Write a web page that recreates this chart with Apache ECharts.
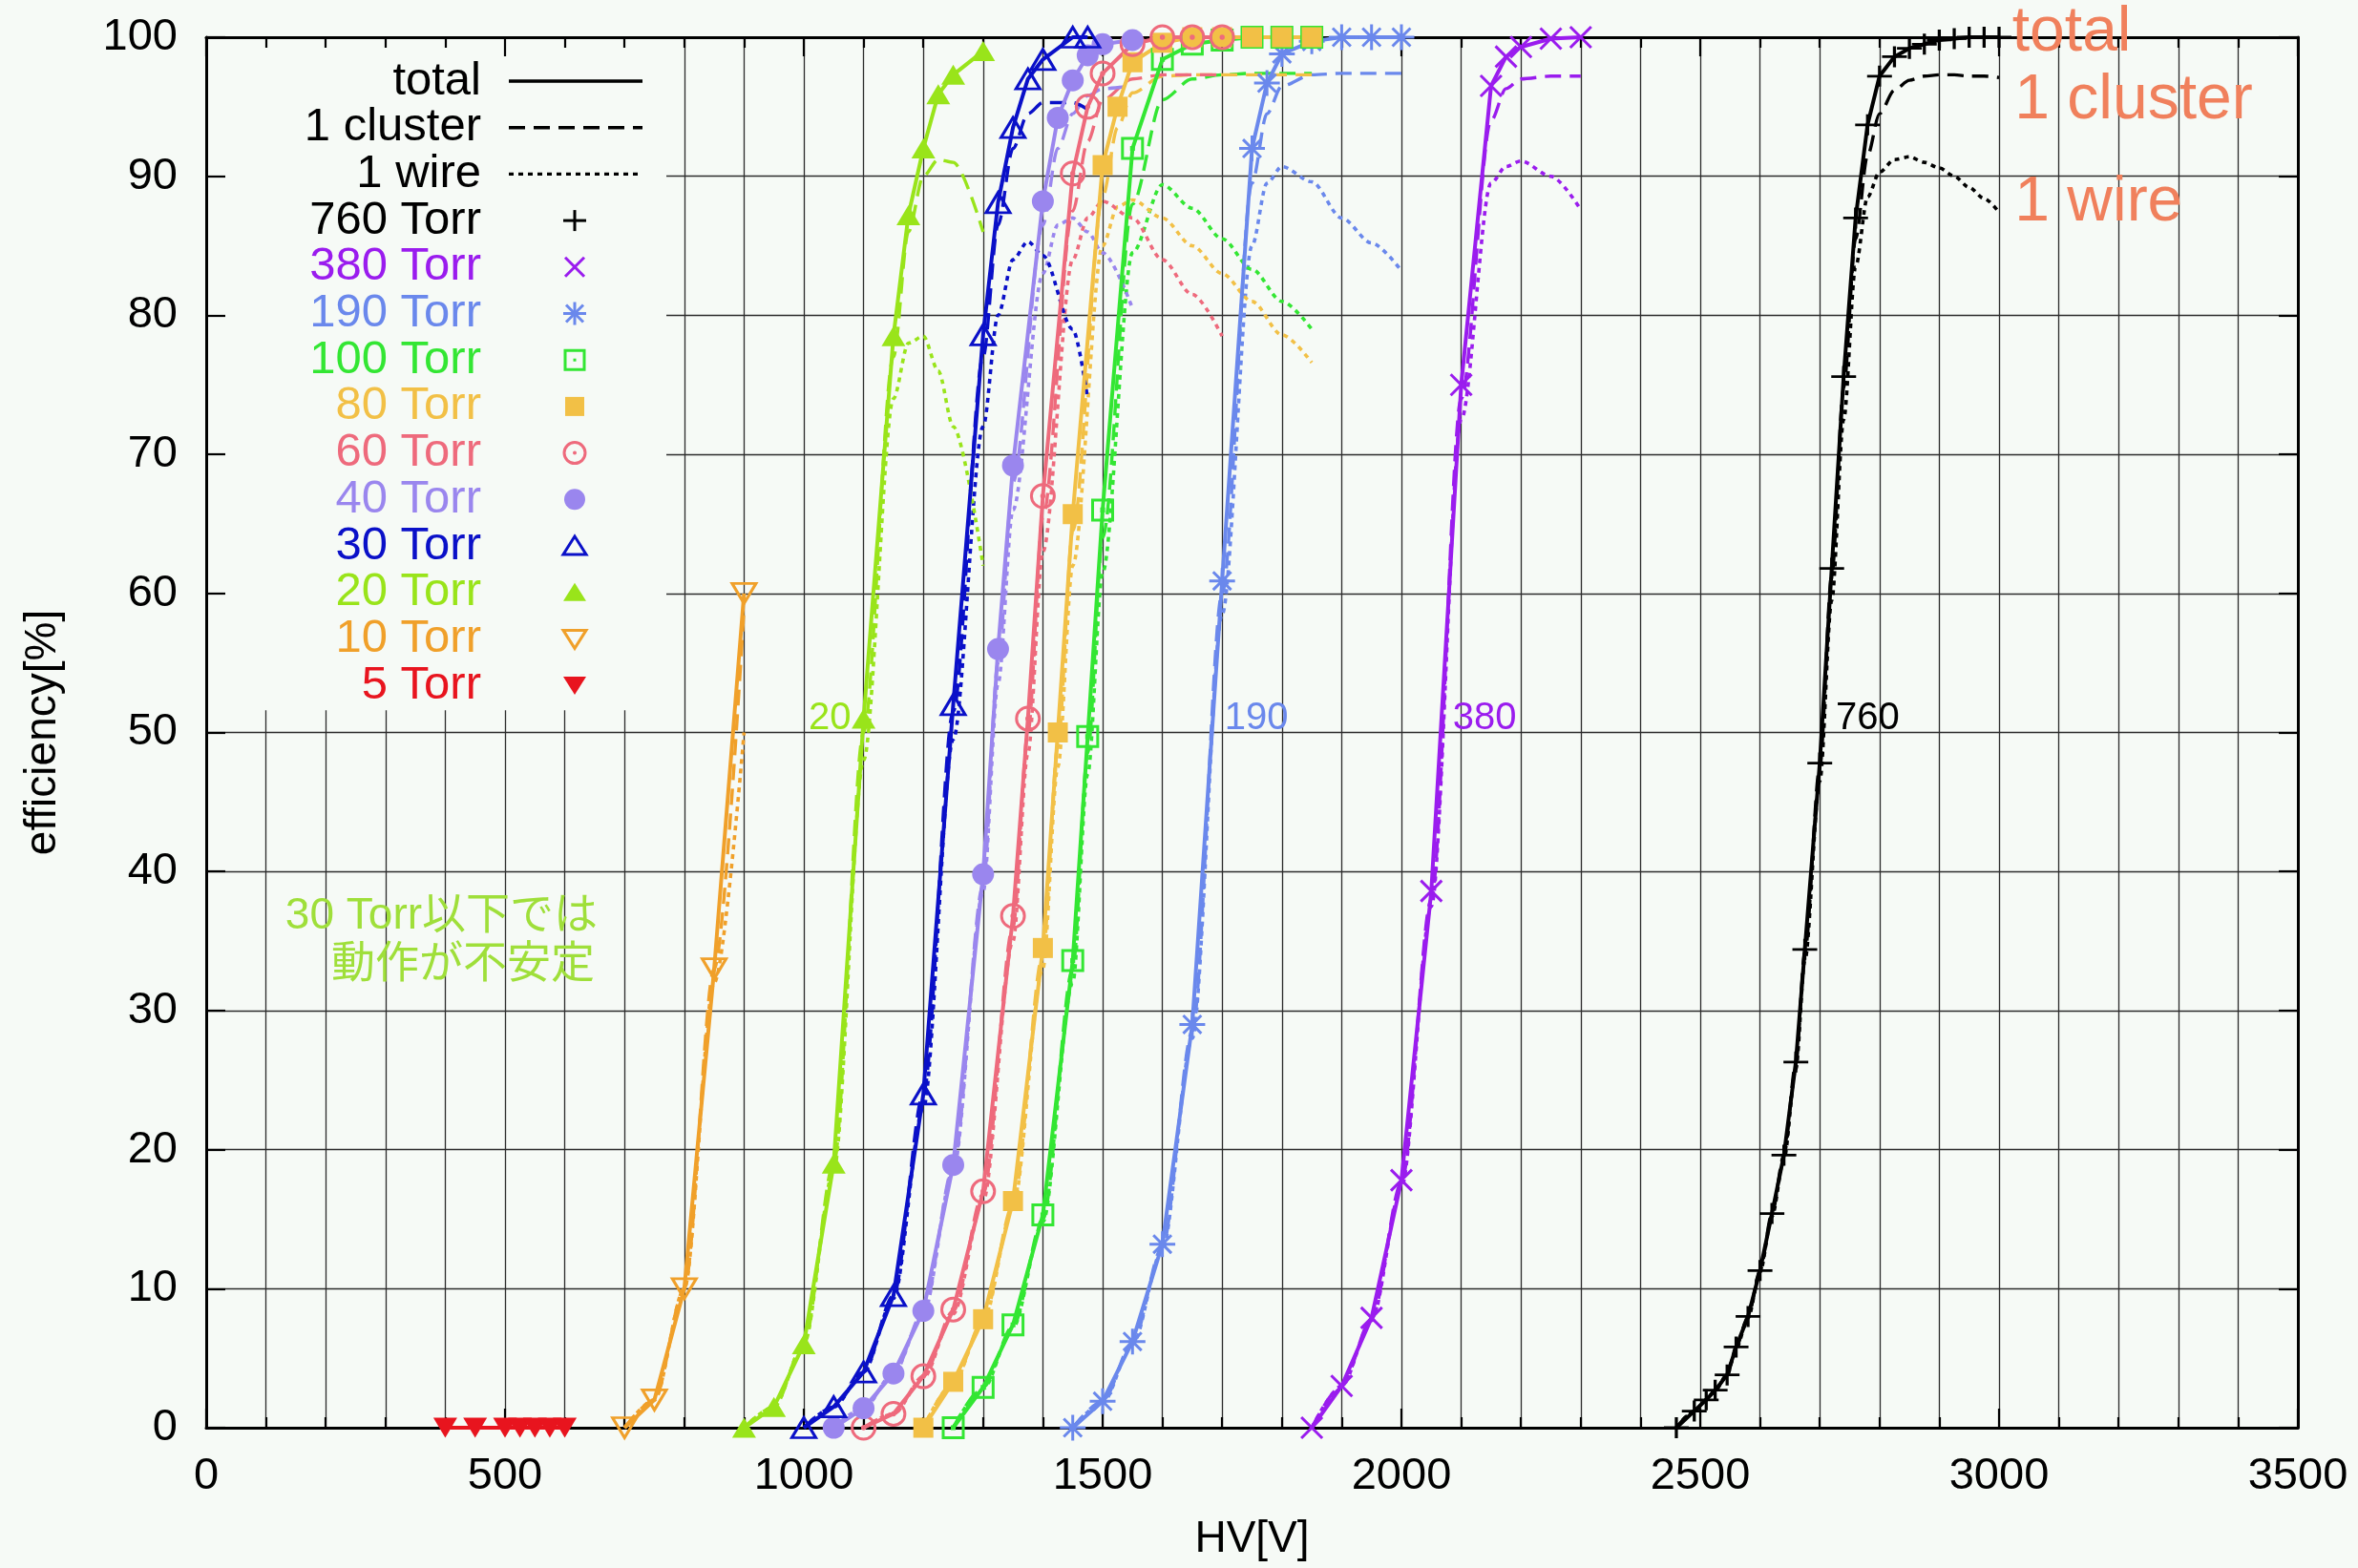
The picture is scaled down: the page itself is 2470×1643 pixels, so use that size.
<!DOCTYPE html>
<html>
<head>
<meta charset="utf-8">
<script src="https://cdn.jsdelivr.net/npm/echarts/dist/echarts.min.js"></script>
<style>
  html, body { margin: 0; padding: 0; background: #f6faf6; }
  #chart { width: 2470px; height: 1643px; }
</style>
</head>
<body>
<div id="chart"></div>
<script>
// ---- data: HV [V] and efficiency [%] per pressure ----
const hv760 = [2460, 2490, 2510, 2525, 2545, 2560, 2580, 2600, 2620, 2640, 2660, 2675, 2700, 2720, 2740, 2760, 2780, 2800, 2825, 2850, 2875, 2900, 2925, 2950, 2975, 3000];
const total760 = [0, 1.2, 2, 2.7, 3.8, 5.8, 8, 11.3, 15.4, 19.6, 26.3, 34.4, 47.8, 61.8, 75.6, 87, 93.7, 97.2, 98.6, 99.2, 99.5, 99.8, 99.9, 100, 100, 100];
const cluster760 = [0, 1.2, 2, 2.7, 3.8, 5.8, 8, 11.3, 15.4, 19.6, 26.2, 34.2, 47.5, 61.3, 74.8, 85.5, 91.5, 94.5, 96.2, 96.9, 97.2, 97.3, 97.3, 97.2, 97.2, 97.1];
const wire760 = [0, 1.2, 2, 2.7, 3.8, 5.7, 7.9, 11.2, 15.2, 19.3, 25.8, 33.6, 46.5, 59.5, 72.5, 83.5, 88.5, 90.3, 91.2, 91.4, 91, 90.6, 90, 89.2, 88.4, 87.4];

const hv380 = [1850, 1900, 1950, 2000, 2050, 2100, 2150, 2175, 2200, 2250, 2300];
const total380 = [0, 3, 7.9, 17.8, 38.6, 75, 96.5, 98.6, 99.3, 99.9, 100];
const cluster380 = [0, 3, 7.8, 17.6, 38, 74, 94, 96.3, 97, 97.2, 97.2];
const wire380 = [0, 3, 7.7, 17.3, 37.5, 72.5, 89.5, 90.7, 91.1, 90, 87.6];

const hv190 = [1450, 1500, 1550, 1600, 1650, 1700, 1750, 1775, 1800, 1850, 1900, 1950, 2000];
const total190 = [0, 1.9, 6.2, 13.2, 29, 60.9, 92, 96.7, 98.8, 99.7, 100, 100, 100];
const cluster190 = [0, 1.9, 6.1, 13, 28.5, 60, 89.5, 94.5, 96.5, 97.3, 97.4, 97.4, 97.4];
const wire190 = [0, 1.8, 6, 12.8, 28, 58.5, 85, 89.5, 90.7, 89.6, 87, 85.2, 83.2];

const hv100 = [1250, 1300, 1350, 1400, 1450, 1475, 1500, 1550, 1600, 1650, 1700, 1750, 1800, 1850];
const total100 = [0, 2.9, 7.4, 15.3, 33.6, 49.7, 66, 92, 98.4, 99.5, 99.8, 100, 100, 100];
const cluster100 = [0, 2.9, 7.3, 15, 33, 48.5, 64, 88, 95.5, 97, 97.3, 97.4, 97.4, 97.4];
const wire100 = [0, 2.8, 7.2, 14.8, 32, 47, 61.5, 84.5, 89.4, 87.7, 85.5, 83.3, 81, 79];

const hv80 = [1200, 1250, 1300, 1350, 1400, 1425, 1450, 1500, 1525, 1550, 1600, 1650, 1700, 1750, 1800, 1850];
const total80 = [0, 3.3, 7.8, 16.3, 34.5, 50, 65.7, 90.8, 95, 98.2, 99.6, 100, 100, 100, 100, 100];
const cluster80 = [0, 3.2, 7.7, 16, 34, 49, 64.5, 88.5, 93.5, 96, 97.2, 97.3, 97.3, 97.3, 97.3, 97.3];
const wire80 = [0, 3.2, 7.6, 15.8, 33, 47.5, 62, 85, 87.8, 88.3, 87, 85, 83, 81, 78.6, 76.6];

const hv60 = [1100, 1150, 1200, 1250, 1300, 1350, 1375, 1400, 1450, 1475, 1500, 1550, 1600, 1650, 1700];
const total60 = [0, 1, 3.7, 8.5, 17, 36.8, 51, 67, 90.2, 95, 97.4, 99.5, 100, 100, 100];
const cluster60 = [0, 1, 3.7, 8.4, 16.8, 36, 50, 65.5, 87.5, 92.5, 95.5, 97, 97.3, 97.3, 97.3];
const wire60 = [0, 1, 3.6, 8.2, 16.3, 35, 48.5, 63, 84, 87, 88.2, 87, 84, 81.5, 78.5];

const hv40 = [1050, 1100, 1150, 1200, 1250, 1300, 1325, 1350, 1400, 1425, 1450, 1475, 1500, 1550];
const total40 = [0, 1.4, 3.9, 8.4, 18.9, 39.8, 56, 69.2, 88.2, 94.2, 96.9, 98.7, 99.5, 99.8];
const cluster40 = [0, 1.4, 3.9, 8.3, 18.7, 39, 55, 68, 86.5, 92, 94.5, 95.8, 96.3, 96.5];
const wire40 = [0, 1.4, 3.9, 8.2, 18.5, 38.5, 53.5, 66, 83, 86.5, 87, 86, 84.5, 80.5];

const hv30 = [1000, 1050, 1100, 1150, 1200, 1250, 1300, 1325, 1350, 1375, 1400, 1450, 1475];
const total30 = [0, 1.5, 4, 9.5, 24, 52, 78.6, 88.1, 93.5, 97, 98.4, 100, 100];
const cluster30 = [0, 1.5, 4, 9.5, 24, 51.5, 77, 86.5, 92, 94.5, 95.3, 95.3, 94.8];
const wire30 = [0, 1.5, 4, 9.3, 23, 49.5, 72, 80, 84, 85.3, 84.3, 79, 74];

const hv20 = [900, 950, 1000, 1050, 1100, 1150, 1175, 1200, 1225, 1250, 1300];
const total20 = [0, 1.5, 6, 19, 51, 78.5, 87.2, 92, 95.9, 97.3, 99];
const cluster20 = [0, 1.5, 6, 19, 50, 77, 86, 90, 91.2, 91, 86];
const wire20 = [0, 1.5, 6, 18.5, 48, 74, 78, 78.5, 76, 72, 62];

const hv10 = [700, 750, 800, 850, 900];
const total10 = [0, 2, 10, 33, 60];
const cluster10 = [0, 2, 10, 33, 59];
const wire10 = [0, 2, 10, 32, 50];

const hv5 = [400, 450, 500, 525, 550, 575, 600];
const total5 = [0, 0, 0, 0, 0, 0, 0];
const cluster5 = [0, 0, 0, 0, 0, 0, 0];
const wire5 = [0, 0, 0, 0, 0, 0, 0];

const xTicks = [0, 500, 1000, 1500, 2000, 2500, 3000, 3500];
const yTicks = [0, 10, 20, 30, 40, 50, 60, 70, 80, 90, 100];

// ---- styling ----
const BG = '#f6faf6';
const FONT = "'Liberation Sans', 'Noto Sans CJK JP', sans-serif";
const GRID_COLOR = '#2c2c2c';
const DASH = [17, 9];
const DOT = [5, 5];

const MARKERS = {
  plus:      { symbol: 'path://M5,0L5,10M0,5L10,5', size: [26, 22], open: true },
  cross:     { symbol: 'path://M0,0L10,10M10,0L0,10', size: 22, open: true },
  star:      { symbol: 'path://M5,0L5,10M0,5L10,5M1.5,1.5L8.5,8.5M8.5,1.5L1.5,8.5', size: 27, open: true },
  boxDot:    { symbol: 'path://M0,0L10,0L10,10L0,10Z M4.5,4.5L5.5,4.5L5.5,5.5L4.5,5.5Z', size: 21, open: true },
  box:       { symbol: 'rect', size: 21, open: false },
  circleDot: { symbol: 'path://M10,5A5,5,0,1,1,0,5A5,5,0,1,1,10,5Z M5.5,5A0.5,0.5,0,1,1,4.5,5A0.5,0.5,0,1,1,5.5,5Z', size: 24, open: true },
  circle:    { symbol: 'circle', size: 23, open: false },
  triUp:     { symbol: 'triangle', size: [25, 21], open: true },
  triUpFill: { symbol: 'triangle', size: [25, 21], open: false },
  triDown:   { symbol: 'triangle', size: [25, 21], open: true, rotate: 180 },
  triDownFill: { symbol: 'triangle', size: [25, 21], open: false, rotate: 180 }
};

const pressures = [
  { label: '760 Torr', color: '#000000', hv: hv760, total: total760, cluster: cluster760, wire: wire760, marker: 'plus' },
  { label: '380 Torr', color: '#9a1cee', hv: hv380, total: total380, cluster: cluster380, wire: wire380, marker: 'cross' },
  { label: '190 Torr', color: '#6a88ec', hv: hv190, total: total190, cluster: cluster190, wire: wire190, marker: 'star' },
  { label: '100 Torr', color: '#33e633', hv: hv100, total: total100, cluster: cluster100, wire: wire100, marker: 'boxDot' },
  { label: '80 Torr', color: '#f2c046', hv: hv80, total: total80, cluster: cluster80, wire: wire80, marker: 'box' },
  { label: '60 Torr', color: '#ee6a7c', hv: hv60, total: total60, cluster: cluster60, wire: wire60, marker: 'circleDot' },
  { label: '40 Torr', color: '#9a86ee', hv: hv40, total: total40, cluster: cluster40, wire: wire40, marker: 'circle' },
  { label: '30 Torr', color: '#0a10c8', hv: hv30, total: total30, cluster: cluster30, wire: wire30, marker: 'triUp' },
  { label: '20 Torr', color: '#99e41a', hv: hv20, total: total20, cluster: cluster20, wire: wire20, marker: 'triUpFill' },
  { label: '10 Torr', color: '#f0a02a', hv: hv10, total: total10, cluster: cluster10, wire: wire10, marker: 'triDown' },
  { label: '5 Torr', color: '#e8141e', hv: hv5, total: total5, cluster: cluster5, wire: wire5, marker: 'triDownFill' }
];

const series = [];
pressures.forEach(p => {
  const pts = ys => p.hv.map((x, i) => [x, ys[i]]);
  const m = MARKERS[p.marker];
  series.push({
    name: p.label + ' 1 wire', type: 'line', data: pts(p.wire), symbol: 'none',
    smooth: 0.3, smoothMonotone: 'x', z: 4, silent: true,
    lineStyle: { color: p.color, width: 3.6, type: DOT }
  });
  series.push({
    name: p.label + ' 1 cluster', type: 'line', data: pts(p.cluster), symbol: 'none',
    smooth: 0.3, smoothMonotone: 'x', z: 4, silent: true,
    lineStyle: { color: p.color, width: 3.4, type: DASH }
  });
  series.push({
    name: p.label, type: 'line', data: pts(p.total),
    symbol: m.symbol, symbolSize: m.size, symbolRotate: m.rotate || 0, z: 5, silent: true,
    itemStyle: m.open
      ? { color: 'rgba(0,0,0,0)', borderColor: p.color, borderWidth: 3 }
      : { color: p.color, borderWidth: 0 },
    lineStyle: { color: p.color, width: 4 }
  });
});

const plainNum = v => String(v);

const axisBase = {
  type: 'value',
  axisLabel: { show: false },
  splitLine: { show: false },
  axisLine: { show: true, onZero: false, lineStyle: { color: '#000', width: 3 } },
  axisTick: { show: true, inside: true, length: 20, lineStyle: { color: '#000', width: 2.2 } },
  z: 3
};

const option = {
  backgroundColor: BG,
  animation: false,
  grid: { left: 216, right: 63, top: 39, bottom: 147, containLabel: false, outerBoundsMode: 'none' },
  xAxis: [
    { type: 'value', min: 0, max: 3500, interval: 100, position: 'bottom',
      axisLine: { show: false }, axisTick: { show: false }, axisLabel: { show: false },
      splitLine: { show: true, lineStyle: { color: GRID_COLOR, width: 1.3 } }, z: 0 },
    Object.assign({}, axisBase, {
      min: xTicks[0], max: xTicks[xTicks.length - 1], interval: xTicks[1] - xTicks[0], position: 'bottom',
      name: 'HV[V]', nameLocation: 'middle', nameGap: 94,
      nameTextStyle: { fontSize: 46, color: '#000', fontFamily: FONT },
      minorTick: { show: true, splitNumber: 5, length: 11, lineStyle: { color: '#000', width: 2.2 } },
      axisLabel: { show: true, margin: 28, fontSize: 47, color: '#000', fontFamily: FONT, formatter: plainNum }
    }),
    Object.assign({}, axisBase, {
      min: xTicks[0], max: xTicks[xTicks.length - 1], interval: xTicks[1] - xTicks[0], position: 'top',
      minorTick: { show: true, splitNumber: 5, length: 11, lineStyle: { color: '#000', width: 2.2 } }
    })
  ],
  yAxis: [
    { type: 'value', min: 0, max: 100, interval: 10, position: 'left',
      axisLine: { show: false }, axisTick: { show: false }, axisLabel: { show: false },
      splitLine: { show: true, lineStyle: { color: GRID_COLOR, width: 1.3 } }, z: 0 },
    Object.assign({}, axisBase, {
      min: yTicks[0], max: yTicks[yTicks.length - 1], interval: yTicks[1] - yTicks[0], position: 'left',
      name: 'efficiency[%]', nameLocation: 'middle', nameGap: 148,
      nameTextStyle: { fontSize: 46, color: '#000', fontFamily: FONT },
      axisLabel: { show: true, margin: 30, fontSize: 47, color: '#000', fontFamily: FONT, formatter: plainNum }
    }),
    Object.assign({}, axisBase, {
      min: yTicks[0], max: yTicks[yTicks.length - 1], interval: yTicks[1] - yTicks[0], position: 'right'
    })
  ],
  series: series
};

const chart = echarts.init(document.getElementById('chart'));
chart.setOption(option);

// ---- texts and key, placed with the chart's own scales ----
const toPx = (v, p) => chart.convertToPixel({ xAxisIndex: 0, yAxisIndex: 0 }, [v, p]);

function txt(str, pos, size, color, align) {
  return {
    type: 'text', x: pos[0], y: pos[1], z: 10, silent: true,
    style: { text: str, fill: color, font: size + 'px ' + FONT,
      align: align || 'left', textAlign: align || 'left',
      verticalAlign: 'middle', textVerticalAlign: 'middle' }
  };
}

function keyMarker(kind, cx, cy, color) {
  const s = 10, w = 3;
  const ln = (x1, y1, x2, y2) => ({ type: 'line', z: 10, silent: true,
    shape: { x1: x1, y1: y1, x2: x2, y2: y2 }, style: { stroke: color, lineWidth: w } });
  const open = { fill: null, stroke: color, lineWidth: w };
  const fill = { fill: color };
  const up = [[cx, cy - s], [cx + 12, cy + 9], [cx - 12, cy + 9]];
  const down = [[cx, cy + s], [cx + 12, cy - 9], [cx - 12, cy - 9]];
  switch (kind) {
    case 'plus': return [ln(cx - 12, cy, cx + 12, cy), ln(cx, cy - 11, cx, cy + 11)];
    case 'cross': return [ln(cx - s, cy - s, cx + s, cy + s), ln(cx + s, cy - s, cx - s, cy + s)];
    case 'star': return [ln(cx - 12, cy, cx + 12, cy), ln(cx, cy - 12, cx, cy + 12),
      ln(cx - 9, cy - 9, cx + 9, cy + 9), ln(cx + 9, cy - 9, cx - 9, cy + 9)];
    case 'boxDot': return [
      { type: 'rect', z: 10, shape: { x: cx - 10, y: cy - 10, width: 20, height: 20 }, style: open },
      { type: 'rect', z: 10, shape: { x: cx - 1.5, y: cy - 1.5, width: 3, height: 3 }, style: fill }];
    case 'box': return [{ type: 'rect', z: 10, shape: { x: cx - 10, y: cy - 10, width: 20, height: 20 }, style: fill }];
    case 'circleDot': return [
      { type: 'circle', z: 10, shape: { cx: cx, cy: cy, r: 11 }, style: open },
      { type: 'circle', z: 10, shape: { cx: cx, cy: cy, r: 2 }, style: fill }];
    case 'circle': return [{ type: 'circle', z: 10, shape: { cx: cx, cy: cy, r: 11 }, style: fill }];
    case 'triUp': return [{ type: 'polygon', z: 10, shape: { points: up }, style: open }];
    case 'triUpFill': return [{ type: 'polygon', z: 10, shape: { points: up }, style: fill }];
    case 'triDown': return [{ type: 'polygon', z: 10, shape: { points: down }, style: open }];
    case 'triDownFill': return [{ type: 'polygon', z: 10, shape: { points: down }, style: fill }];
  }
  return [];
}

const graphics = [];
// opaque key box (hides the grid behind the key)
const boxTL = toPx(0, 100), boxBR = toPx(770, 51.6);
graphics.push({ type: 'rect', z: 1, silent: true,
  shape: { x: boxTL[0] + 1, y: boxTL[1] + 1, width: boxBR[0] - boxTL[0] - 1, height: boxBR[1] - boxTL[1] - 1 },
  style: { fill: BG } });

const keyTextX = 504, keyLineX0 = 533, keyLineX1 = 673, keySymX = 602, keyY0 = 85, keyStep = 48.7;
const styleRows = [
  { label: 'total', dash: null },
  { label: '1 cluster', dash: DASH },
  { label: '1 wire', dash: DOT }
];
styleRows.forEach((r, i) => {
  const y = keyY0 + i * keyStep;
  graphics.push(txt(r.label, [keyTextX, y], 49, '#000', 'right'));
  graphics.push({ type: 'line', z: 10, silent: true,
    shape: { x1: keyLineX0, y1: y, x2: keyLineX1, y2: y },
    style: { stroke: '#000', lineWidth: 3.4, lineDash: r.dash } });
});
pressures.forEach((p, i) => {
  const y = keyY0 + (i + 3) * keyStep;
  graphics.push(txt(p.label, [keyTextX, y], 49, p.color, 'right'));
  keyMarker(p.marker, keySymX, y, p.color).forEach(g => graphics.push(g));
});

// curve labels at the 50 % line
graphics.push(txt('20', toPx(1008, 51), 40, '#99e41a'));
graphics.push(txt('190', toPx(1704, 51), 40, '#6a88ec'));
graphics.push(txt('380', toPx(2086, 51), 40, '#9a1cee'));
graphics.push(txt('760', toPx(2727, 51), 40, '#000'));

// line-style notes on the right
graphics.push(txt('total', toPx(3022, 100.3), 66, '#f0805c'));
graphics.push(txt('1 cluster', toPx(3026, 95.4), 66, '#f0805c'));
graphics.push(txt('1 wire', toPx(3026, 88.1), 66, '#f0805c'));

// note about low pressures
graphics.push(txt('30 Torr以下では', toPx(655, 36.8), 46, '#9fdf3a', 'right'));
graphics.push(txt('動作が不安定', toPx(650, 33.3), 46, '#9fdf3a', 'right'));

chart.setOption({ graphic: graphics });
</script>
</body>
</html>
